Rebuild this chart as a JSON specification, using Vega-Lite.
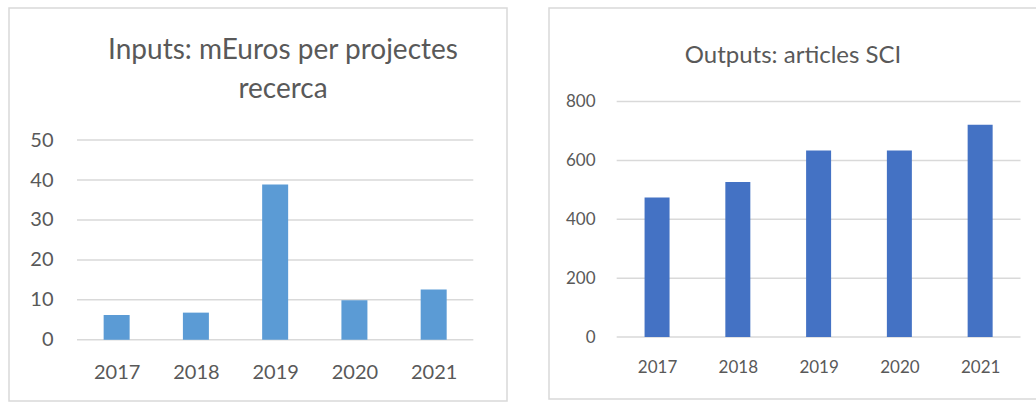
{
  "$schema": "https://vega.github.io/schema/vega-lite/v6.json",
  "padding": {"left": 8, "top": 7, "right": 0, "bottom": 0},
  "spacing": 40,
  "background": "white",
  "config": {
    "view": {"stroke": "#d9d9d9", "strokeWidth": 1.5},
    "font": "Lato",
    "axis": {"labelColor": "#595959", "labelFont": "Lato", "ticks": false, "tickSize": 0, "domain": false, "grid": false, "labelFlush": false}
  },
  "hconcat": [
    {
      "width": 498,
      "height": 393,
      "title": {"text": ["Inputs: mEuros per projectes", "recerca"], "fontSize": 28, "fontWeight": "normal", "color": "#595959", "font": "Lato", "lineHeight": 39, "offset": -96, "dx": 25, "anchor": "middle"},
      "layer": [
        {
          "data": {"values": [{"v": 0}, {"v": 10}, {"v": 20}, {"v": 30}, {"v": 40}, {"v": 50}]},
          "mark": {"type": "rule", "color": "#d9d9d9", "strokeWidth": 1.5},
          "encoding": {
            "y": {"field": "v", "type": "quantitative", "title": null},
            "x": {"datum": 2016.5, "type": "quantitative", "title": null},
            "x2": {"datum": 2021.5}
          }
        },
        {
          "data": {"values": [
            {"year": 2017, "value": 6.2},
            {"year": 2018, "value": 6.8},
            {"year": 2019, "value": 38.9},
            {"year": 2020, "value": 9.9},
            {"year": 2021, "value": 12.6}
          ]},
          "mark": {"type": "bar", "width": 26, "color": "#5B9BD5"},
          "encoding": {
            "x": {"field": "year", "type": "quantitative", "title": null,
              "scale": {"domain": [2015.705, 2021.862], "nice": false, "zero": false},
              "axis": {"values": [2017, 2018, 2019, 2020, 2021], "format": "d", "labelFontSize": 20, "offset": -61, "labelPadding": 22}},
            "y": {"field": "value", "type": "quantitative", "title": null,
              "scale": {"domain": [-15.33, 83.08], "nice": false, "zero": false},
              "axis": {"values": [0, 10, 20, 30, 40, 50], "labelFontSize": 20, "offset": -64, "labelPadding": 20}},
            "y2": {"datum": 0}
          }
        }
      ]
    },
    {
      "width": 488,
      "height": 391,
      "title": {"text": "Outputs: articles SCI", "fontSize": 24, "fontWeight": "normal", "color": "#595959", "font": "Lato", "offset": -60, "anchor": "middle"},
      "layer": [
        {
          "data": {"values": [{"v": 0}, {"v": 200}, {"v": 400}, {"v": 600}, {"v": 800}]},
          "mark": {"type": "rule", "color": "#d9d9d9", "strokeWidth": 1.5},
          "encoding": {
            "y": {"field": "v", "type": "quantitative", "title": null},
            "x": {"datum": 2016.5, "type": "quantitative", "title": null},
            "x2": {"datum": 2021.5}
          }
        },
        {
          "data": {"values": [
            {"year": 2017, "value": 474},
            {"year": 2018, "value": 527},
            {"year": 2019, "value": 634},
            {"year": 2020, "value": 634},
            {"year": 2021, "value": 721}
          ]},
          "mark": {"type": "bar", "width": 25, "color": "#4472C4"},
          "encoding": {
            "x": {"field": "year", "type": "quantitative", "title": null,
              "scale": {"domain": [2015.724, 2021.642], "nice": false, "zero": false},
              "axis": {"values": [2017, 2018, 2019, 2020, 2021], "format": "d", "labelFontSize": 17, "offset": -62, "labelPadding": 22}},
            "y": {"field": "value", "type": "quantitative", "title": null,
              "scale": {"domain": [-210.2, 1117.6], "nice": false, "zero": false},
              "axis": {"values": [0, 200, 400, 600, 800], "labelFontSize": 17, "offset": -64, "labelPadding": 18}},
            "y2": {"datum": 0}
          }
        }
      ]
    }
  ]
}
